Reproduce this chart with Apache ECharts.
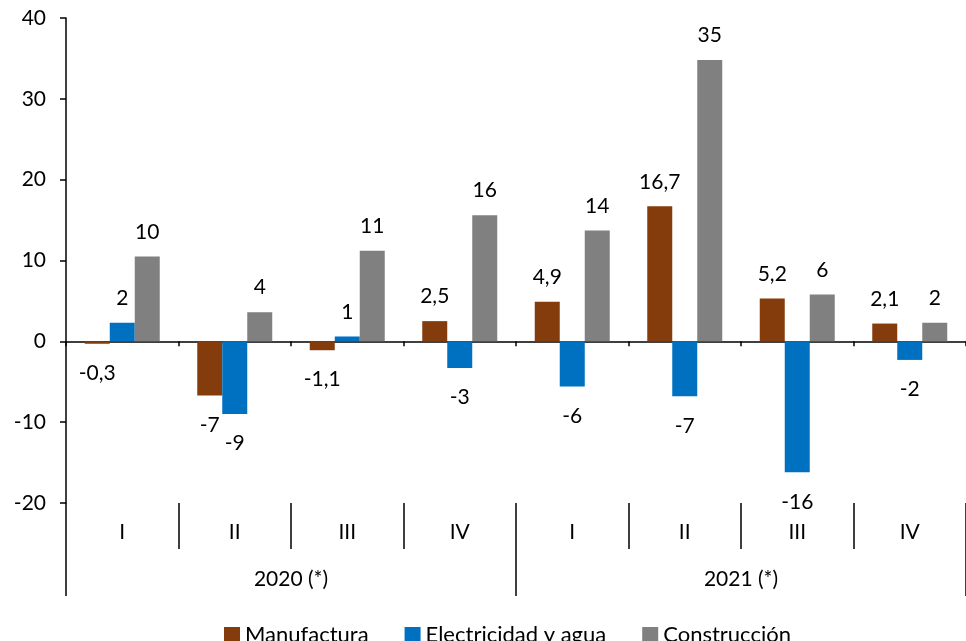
<!DOCTYPE html>
<html>
<head>
<meta charset="utf-8">
<script src="https://cdn.jsdelivr.net/npm/echarts@6/dist/echarts.min.js"></script>
<style>
  html, body { margin: 0; padding: 0; background: #fff; }
  #chart { width: 966px; height: 641px; }
</style>
</head>
<body>
<div id="chart"></div>
<script>
// trimestres y años
var quarters = ['I', 'II', 'III', 'IV', 'I', 'II', 'III', 'IV']
var years = ['2020 (*)', '2021 (*)']

// valores de cada serie (variación %)
var manufactura = [-0.3, -6.7, -1.1, 2.5, 4.9, 16.7, 5.3, 2.2]
var electricidad = [2.3, -9.0, 0.6, -3.3, -5.6, -6.8, -16.2, -2.3]
var construccion = [10.5, 3.6, 11.2, 15.6, 13.7, 34.8, 5.8, 2.3]

// etiquetas tal como aparecen
var manufacturaLbl = ['-0,3', '-7', '-1,1', '2,5', '4,9', '16,7', '5,2', '2,1']
var electricidadLbl = ['2', '-9', '1', '-3', '-6', '-7', '-16', '-2']
var construccionLbl = ['10', '4', '11', '16', '14', '35', '6', '2']

var FONT = 'Lato'
var FS = 21

function barData(values, labels) {
  return values.map(function (v, i) {
    return {
      value: v,
      label: {
        position: v < 0 ? 'bottom' : 'top',
        distance: v < 0 ? 19 : 14,
        formatter: labels[i]
      }
    }
  })
}

function makeSeries(name, values, labels, color) {
  return {
    name: name,
    type: 'bar',
    xAxisIndex: 0,
    barWidth: 25,
    barGap: '0%',
    itemStyle: { color: color },
    label: {
      show: true,
      color: '#000',
      fontFamily: FONT,
      fontSize: FS
    },
    data: barData(values, labels)
  }
}

var myChart = echarts.init(document.getElementById('chart'))
var option = {
  backgroundColor: '#fff',
  animation: false,
  textStyle: { fontFamily: FONT },
  grid: { left: 66, right: -1, top: 18, bottom: 138, containLabel: false },
  legend: {
    top: 619,
    left: 219,
    itemWidth: 16,
    itemHeight: 16,
    itemGap: 36,
    itemStyle: { borderWidth: 0 },
    icon: 'rect',
    textStyle: { color: '#000', fontFamily: FONT, fontSize: 22 },
    data: ['Manufactura', 'Electricidad y agua', 'Construcción']
  },
  xAxis: [
    {
      type: 'category',
      data: quarters,
      axisLine: { onZero: true, lineStyle: { color: '#000', width: 1.5 } },
      axisTick: { show: true, length: 5, interval: 0, lineStyle: { color: '#000', width: 1.5 } },
      axisLabel: { show: false }
    },
    {
      type: 'category',
      data: quarters,
      position: 'bottom',
      axisLine: { show: false, onZero: false },
      axisTick: { show: true, length: 46, interval: 0, lineStyle: { color: '#000', width: 1.5 } },
      axisLabel: { margin: 19, color: '#000', fontFamily: FONT, fontSize: FS, interval: 0 }
    },
    {
      type: 'category',
      data: years,
      position: 'bottom',
      axisLine: { show: false, onZero: false },
      axisTick: { show: true, length: 93, interval: 0, lineStyle: { color: '#000', width: 1.5 } },
      axisLabel: { margin: 66, color: '#000', fontFamily: FONT, fontSize: FS, interval: 0 }
    }
  ],
  yAxis: {
    type: 'value',
    min: -20,
    max: 40,
    interval: 10,
    axisLine: { show: true, lineStyle: { color: '#000', width: 1.5 } },
    axisTick: { show: true, length: 6, lineStyle: { color: '#000', width: 1.5 } },
    axisLabel: { margin: 20, color: '#000', fontFamily: FONT, fontSize: FS },
    splitLine: { show: false }
  },
  series: [
    makeSeries('Manufactura', manufactura, manufacturaLbl, '#843C0C'),
    makeSeries('Electricidad y agua', electricidad, electricidadLbl, '#0070C0'),
    makeSeries('Construcción', construccion, construccionLbl, '#808080')
  ]
}
myChart.setOption(option)
</script>
</body>
</html>
